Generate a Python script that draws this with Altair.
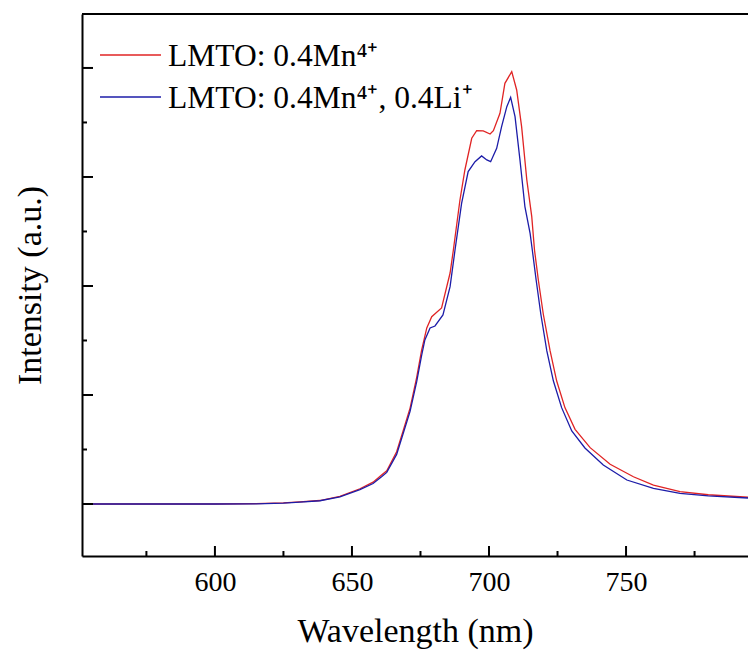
import altair as alt
import pandas as pd

# ---- data ----
red_nm = [551.5, 575, 600, 615, 625, 631, 638.3, 645.6, 652.9, 657.7, 660.8, 662.7, 666.3, 668.6,
          671.2, 673.6, 675.4, 677.3, 679.1, 682.7, 685.8, 687.0, 689.4, 691.2, 693.7, 695.5,
          697.9, 700.4, 701.6, 704.0, 705.8, 708.3, 710.1, 711.9, 713.8, 715.6, 716.6, 718.0,
          719.8, 722.3, 724.7, 727.7, 731.4, 736.9, 744.2, 752.7, 760.0, 769.7, 780.0, 794.5]
red_val = [0.0, 0.0, 0.0, 0.003, 0.01, 0.02, 0.032, 0.07, 0.14, 0.2, 0.265, 0.305, 0.48, 0.665,
           0.88, 1.16, 1.41, 1.615, 1.718, 1.798, 2.119, 2.33, 2.789, 3.064, 3.355, 3.425,
           3.422, 3.394, 3.425, 3.584, 3.859, 3.966, 3.798, 3.462, 2.972, 2.636, 2.33, 2.055,
           1.743, 1.404, 1.128, 0.884, 0.685, 0.517, 0.364, 0.25, 0.174, 0.113, 0.085, 0.062]

blue_nm = [551.5, 575, 600, 615, 625, 631, 638.3, 645.6, 652.9, 657.7, 660.8, 662.7, 666.3, 668.6,
           671.2, 673.6, 675.4, 676.6, 678.5, 680.3, 683.2, 685.8, 687.6, 690.0, 692.4, 694.9,
           697.3, 699.2, 700.6, 702.8, 704.6, 706.5, 707.9, 709.5, 711.3, 713.1, 715.0, 715.8,
           717.2, 718.9, 721.1, 723.5, 726.5, 730.2, 735.0, 741.7, 750.3, 760.0, 769.7, 780.0, 794.5]
blue_val = [0.0, 0.0, 0.0, 0.002, 0.008, 0.018, 0.03, 0.065, 0.132, 0.188, 0.25, 0.29, 0.455, 0.64,
            0.85, 1.12, 1.36, 1.505, 1.615, 1.633, 1.734, 1.994, 2.33, 2.758, 3.049, 3.14,
            3.193, 3.156, 3.14, 3.263, 3.462, 3.645, 3.731, 3.553, 3.156, 2.728, 2.483, 2.33,
            2.055, 1.743, 1.404, 1.128, 0.884, 0.67, 0.514, 0.358, 0.22, 0.144, 0.098, 0.075, 0.055]

series_names = ["LMTO: 0.4Mn⁴⁺", "LMTO: 0.4Mn⁴⁺, 0.4Li⁺"]
series_colors = ["#e02424", "#1c1ca8"]

x_major = [600, 650, 700, 750]
x_minor = [575, 625, 675, 725, 775]
y_major = [0, 1, 2, 3, 4]
y_minor = [0.5, 1.5, 2.5, 3.5]

X_DOMAIN = [551.5, 794.5]
Y_DOMAIN = [-0.477, 4.495]
W, H = 666, 542
FONT = "Liberation Serif"

df = pd.concat([
    pd.DataFrame({"nm": red_nm, "val": red_val, "series": series_names[0]}),
    pd.DataFrame({"nm": blue_nm, "val": blue_val, "series": series_names[1]}),
])

xs = alt.Scale(domain=X_DOMAIN, nice=False, zero=False)
ys = alt.Scale(domain=Y_DOMAIN, nice=False, zero=False)

lines = alt.Chart(df).mark_line(strokeWidth=1.3, clip=True).encode(
    x=alt.X("nm:Q", scale=xs,
            axis=alt.Axis(title="Wavelength (nm)", values=x_major, ticks=False, grid=False,
                          domainColor="black", domainWidth=2, labelFont=FONT, labelFontSize=28,
                          labelColor="black", labelPadding=12, titleFont=FONT, titleFontSize=34,
                          titleFontWeight="normal", titleColor="black", titlePadding=18)),
    y=alt.Y("val:Q", scale=ys,
            axis=alt.Axis(title="Intensity (a.u.)", labels=False, ticks=False, grid=False,
                          domainColor="black", domainWidth=2, titleFont=FONT, titleFontSize=34,
                          titleFontWeight="normal", titleColor="black", titlePadding=35)),
    color=alt.Color("series:N", scale=alt.Scale(domain=series_names, range=series_colors), legend=None),
    detail="series:N",
    order=alt.Order("nm:Q"),
)

# inward tick marks
ymaj = alt.Chart(pd.DataFrame({"v": y_major})).mark_rule(color="black", strokeWidth=2, clip=True).encode(
    y=alt.Y("v:Q", scale=ys, axis=None), x=alt.value(0), x2=alt.value(11))
ymin = alt.Chart(pd.DataFrame({"v": y_minor})).mark_rule(color="black", strokeWidth=2, clip=True).encode(
    y=alt.Y("v:Q", scale=ys, axis=None), x=alt.value(0), x2=alt.value(5))
xmaj = alt.Chart(pd.DataFrame({"v": x_major})).mark_rule(color="black", strokeWidth=2, clip=True).encode(
    x=alt.X("v:Q", scale=xs), y=alt.value(H), y2=alt.value(H - 10))
xmin = alt.Chart(pd.DataFrame({"v": x_minor})).mark_rule(color="black", strokeWidth=2, clip=True).encode(
    x=alt.X("v:Q", scale=xs), y=alt.value(H), y2=alt.value(H - 5))

top_border = alt.Chart(pd.DataFrame({"a": [0]})).mark_rule(color="black", strokeWidth=2).encode(
    x=alt.value(0), x2=alt.value(W), y=alt.value(0))

# legend (manual)
leg_df = pd.DataFrame({"name": series_names, "col": series_colors, "row": [0, 1]})
leg_y = alt.Y("row:Q", scale=alt.Scale(domain=[0, 1], range=[41, 83]), axis=None)
leg_lines = alt.Chart(leg_df).mark_rule(strokeWidth=1.3).encode(
    x=alt.value(18), x2=alt.value(79), y=leg_y, color=alt.Color("col:N", scale=None))
leg_text = alt.Chart(leg_df).mark_text(align="left", baseline="middle", font=FONT, fontSize=31.5,
                                       color="black", dy=2).encode(
    x=alt.value(86), y=leg_y, text="name:N")
legend = alt.layer(leg_lines, leg_text)

chart = alt.layer(lines, ymaj, ymin, xmaj, xmin, top_border, legend).resolve_scale(
    y="independent", color="independent"
).properties(
    width=W, height=H,
    autosize=alt.AutoSizeParams(type="none"),
    padding={"left": 82, "top": 14, "right": 0, "bottom": 101},
).configure_view(stroke=None).configure(background="white")

chart.save("out.html", embed_options={"renderer": "svg", "actions": False})
